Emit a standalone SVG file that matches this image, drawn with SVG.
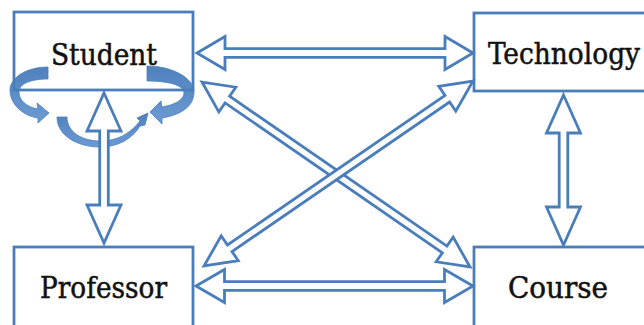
<svg xmlns="http://www.w3.org/2000/svg" width="644" height="325" viewBox="0 0 644 325">
<defs>
<style>
.box{fill:none;stroke:#4a7ebb;stroke-width:2.8}
.arr{fill:#fff;stroke:#4a7ebb;stroke-width:2.8;stroke-linejoin:miter}
.lbl{font-family:"DejaVu Serif Condensed","DejaVu Serif",serif;font-stretch:condensed;font-size:30px;fill:#111;stroke:#111;stroke-width:0.5}
.curl{fill:url(#cg);stroke:#4a7ebb;stroke-width:0.8}
</style>
<linearGradient id="cg" x1="0" y1="0" x2="0" y2="1">
<stop offset="0" stop-color="#4f81bd"/>
<stop offset="1" stop-color="#6d9ad3"/>
</linearGradient>
</defs>
<rect width="644" height="325" fill="#fff"/>
<g id="self-loops">
<path class="curl" d="M48,67 C26,67 10,78 10,90 C10,105 24,116 38,118 L38,123 L49,113 L37,103 L38,109 C26,107 19,100 19,92 C19,84 30,79 48,79 Z"/>
<path class="curl" d="M147,66 C172,66 194,78 194,92 C194,107 180,115 162,118 L162,124 L150,112 L161,101 L162,107 C174,105 184,100 184,93 C184,85 168,81 147,81 Z"/>
<path class="curl" d="M57,117 C57,136 78,147 100,147 C118,147 132,139 140,126 L145,125 L148,113 L137,118 L140,121 C130,134 117,141 100,141 C82,141 67,132 67,117 Z"/>
</g>
<g id="connectors">
<polygon class="arr" transform="translate(335,53)" points="-138,0 -110,-16.5 -110,-4.3 110,-4.3 110,-16.5 138,0 110,16.5 110,4.3 -110,4.3 -110,16.5"/>
<polygon class="arr" transform="translate(334.5,286)" points="-138.5,0 -110,-16.5 -110,-4.3 110,-4.3 110,-16.5 138.5,0 110,16.5 110,4.3 -110,4.3 -110,16.5"/>
<polygon class="arr" transform="translate(104,168) rotate(90)" points="-75,0 -37,-17 -37,-4.3 37,-4.3 37,-17 75,0 37,17 37,4.3 -37,4.3 -37,17"/>
<polygon class="arr" transform="translate(563.5,170) rotate(90)" points="-75,0 -37,-17 -37,-4.3 37,-4.3 37,-17 75,0 37,17 37,4.3 -37,4.3 -37,17"/>
<polygon class="arr" transform="translate(336,174.5) rotate(34.6)" points="-162.8,0 -132,-15 -132,-4 132,-4 132,-15 162.8,0 132,15 132,4 -132,4 -132,15"/>
<polygon class="arr" transform="translate(338.5,173.5) rotate(-34.5)" points="-163.2,0 -132,-15 -132,-4 132,-4 132,-15 163.2,0 132,15 132,4 -132,4 -132,15"/>
</g>
<g id="student">
<rect class="box" x="14" y="12" width="179" height="78"/>
<text class="lbl" x="51" y="65" textLength="106" lengthAdjust="spacingAndGlyphs">Student</text>
</g>
<g id="technology">
<rect class="box" x="474" y="13" width="190" height="78"/>
<text class="lbl" x="488" y="64" textLength="152" lengthAdjust="spacingAndGlyphs">Technology</text>
</g>
<g id="professor">
<rect class="box" x="14" y="247" width="179" height="100"/>
<text class="lbl" x="40" y="298" textLength="127" lengthAdjust="spacingAndGlyphs">Professor</text>
</g>
<g id="course">
<rect class="box" x="474" y="247" width="190" height="100"/>
<text class="lbl" x="508" y="298" textLength="100" lengthAdjust="spacingAndGlyphs">Course</text>
</g>
</svg>
